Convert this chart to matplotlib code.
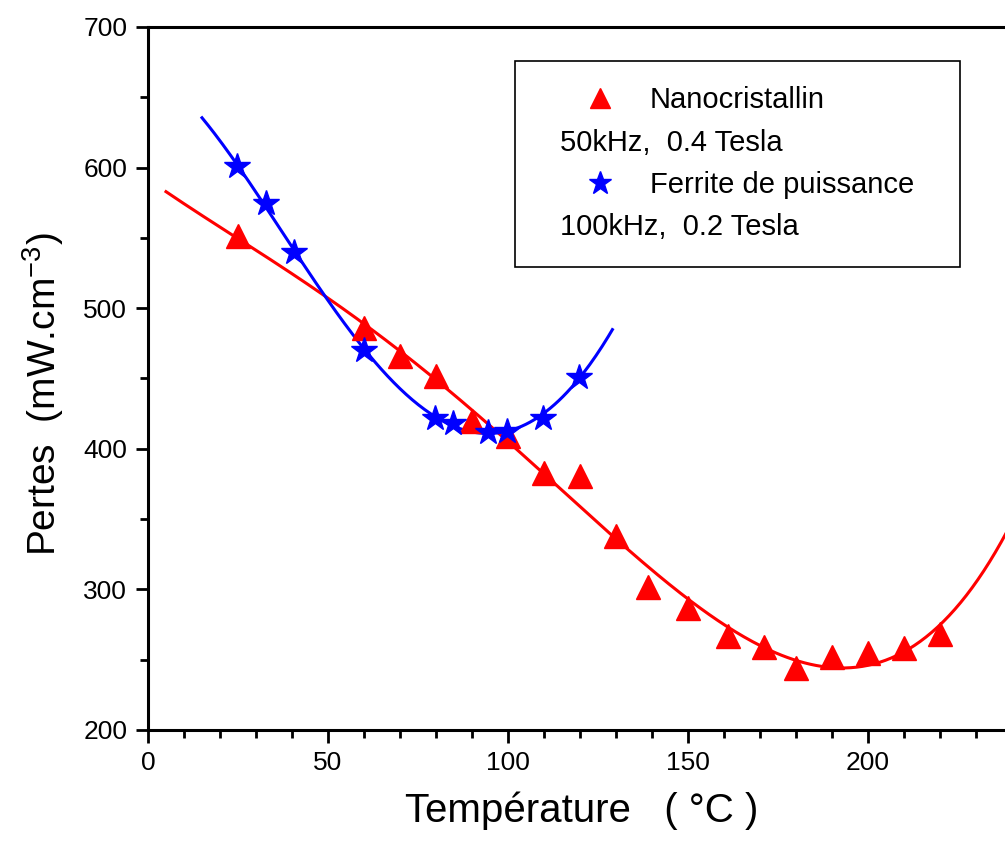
import numpy as np
import matplotlib
matplotlib.use("Agg")
import matplotlib.pyplot as plt
from matplotlib.ticker import MultipleLocator
from matplotlib.patches import Rectangle
from matplotlib.lines import Line2D

plt.rcParams['font.family'] = ['Liberation Sans', 'DejaVu Sans']

# Nanocristallin (50kHz, 0.4 T)
nano_T = [25, 60, 70, 80, 90, 100, 110, 120, 130, 139, 150, 161, 171, 180, 190, 200, 210, 220]
nano_P = [551, 486, 466, 452, 420, 409, 383, 381, 338, 302, 287, 267, 259, 244, 252, 255, 258, 268]
# Ferrite de puissance (100kHz, 0.2 T)
fer_T = [24.7, 32.7, 40.6, 60, 79.7, 84.7, 94.4, 99.7, 109.7, 119.7]
fer_P = [601, 575, 540, 470, 422, 418, 412, 413, 422, 451]

fig = plt.figure(figsize=(10.05, 8.48), dpi=100)
ax = fig.add_axes([148/1005, 1-730/848, (1015-148)/1005, (730-27)/848])
ax.set_xlim(0, (1015-148)/3.6)
ax.set_ylim(200, 700)

# fitted curves
pr = np.polyfit(nano_T, nano_P, 4)
xr = np.linspace(5, 245, 300)
ax.plot(xr, np.polyval(pr, xr), color='#ff0000', lw=2.2, zorder=2)
pb = np.polyfit(fer_T, fer_P, 4)
xb = np.linspace(15, 129, 200)
ax.plot(xb, np.polyval(pb, xb), color='#0000ff', lw=2.2, zorder=2)

ax.plot(nano_T, nano_P, ls='none', marker='^', ms=17, color='#ff0000', mec='#ff0000', zorder=3)
ax.plot(fer_T, fer_P, ls='none', marker='*', ms=19, color='#0000ff', mec='#0000ff', zorder=4)

ax.spines['right'].set_visible(False)
for s in ['left', 'bottom', 'top']:
    ax.spines[s].set_linewidth(2.2)

ax.xaxis.set_major_locator(MultipleLocator(50))
ax.xaxis.set_minor_locator(MultipleLocator(10))
ax.yaxis.set_major_locator(MultipleLocator(100))
ax.yaxis.set_minor_locator(MultipleLocator(50))
ax.tick_params(which='major', direction='out', length=9, width=2, labelsize=19, pad=6)
ax.tick_params(which='minor', direction='out', length=6, width=2)

ax.set_xlabel('Température   ( °C )', fontsize=29, labelpad=12)
ax.set_ylabel('Pertes  (mW.cm$^{\\mathregular{-3}}$)', fontsize=28)
ax.yaxis.set_label_coords(-0.095, 0.478)

# legend box
def fx(px):
    return px/1005
def fy(py):
    return 1-py/848
fig.patches.append(Rectangle((fx(515), fy(267)), fx(960)-fx(515), fy(61)-fy(267),
                             transform=fig.transFigure, fill=True, facecolor='white',
                             edgecolor='black', lw=1.2, zorder=5))
fig.lines.append(Line2D([fx(600)], [fy(98)], transform=fig.transFigure, marker='^', ms=15,
                        color='#ff0000', ls='none', zorder=6))
fig.lines.append(Line2D([fx(600)], [fy(183)], transform=fig.transFigure, marker='*', ms=17,
                        color='#0000ff', ls='none', zorder=6))
fs = 21
fig.text(fx(650), fy(100), 'Nanocristallin', fontsize=fs, va='center', ha='left', zorder=7)
fig.text(fx(560), fy(143), '50kHz,  0.4 Tesla', fontsize=fs, va='center', ha='left', zorder=7)
fig.text(fx(650), fy(185), 'Ferrite de puissance', fontsize=fs, va='center', ha='left', zorder=7)
fig.text(fx(560), fy(227), '100kHz,  0.2 Tesla', fontsize=fs, va='center', ha='left', zorder=7)

fig.savefig('out.png', dpi=100)
